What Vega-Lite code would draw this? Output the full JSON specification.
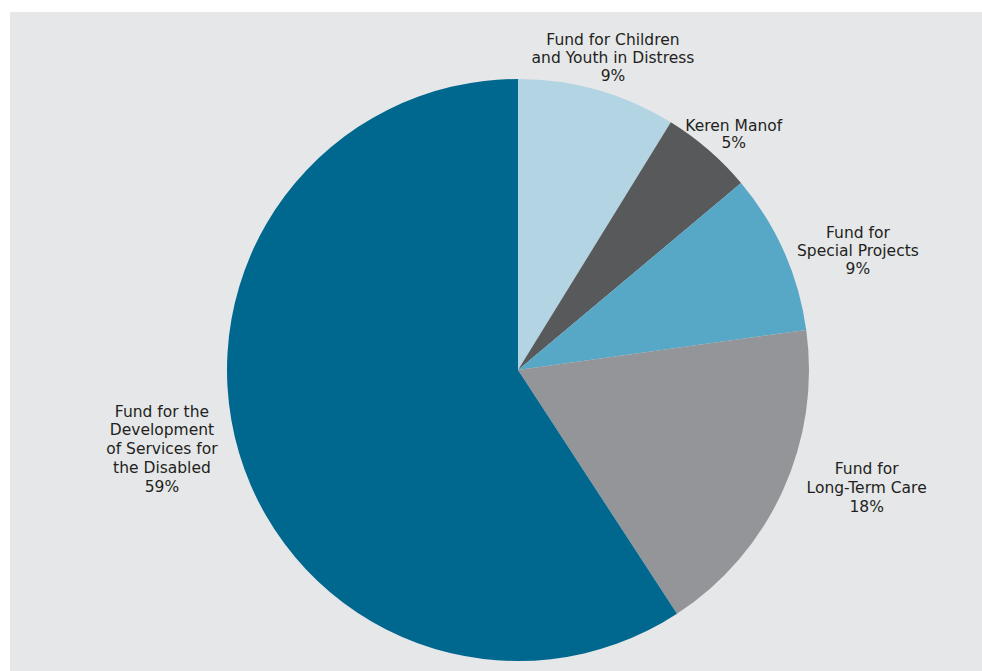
{
  "$schema": "https://vega.github.io/schema/vega-lite/v6.json",
  "width": 1016,
  "height": 716,
  "autosize": {"type": "none"},
  "padding": {"left": 10, "top": 12, "right": 0, "bottom": 0},
  "background": "#ffffff",
  "view": {"fill": "#e6e7e9", "stroke": null},
  "config": {"text": {"font": "DejaVu Sans", "fontSize": 15.5, "lineHeight": 18, "lineBreak": "\n", "align": "center", "baseline": "middle"}},
  "data": {
    "values": [
      {"fund": "Children", "order": 1, "value": 8.8, "label": "Fund for Children\nand Youth in Distress\n9%"},
      {"fund": "Keren Manof", "order": 2, "value": 5.1, "label": "Keren Manof\n5%"},
      {"fund": "Special Projects", "order": 3, "value": 8.9, "label": "Fund for\nSpecial Projects\n9%"},
      {"fund": "Long-Term Care", "order": 4, "value": 18.0, "label": "Fund for\nLong-Term Care\n18%"},
      {"fund": "Disabled", "order": 5, "value": 59.2, "label": "Fund for the\nDevelopment\nof Services for\nthe Disabled\n59%"}
    ]
  },
  "encoding": {
    "theta": {"field": "value", "type": "quantitative", "stack": true},
    "order": {"field": "order", "type": "quantitative"}
  },
  "layer": [
    {
      "mark": {"type": "arc", "radius": 291},
      "encoding": {
        "color": {
          "field": "fund",
          "type": "nominal",
          "scale": {
            "domain": ["Children", "Keren Manof", "Special Projects", "Long-Term Care", "Disabled"],
            "range": ["#b3d4e3", "#58595b", "#57a7c7", "#939598", "#00678f"]
          },
          "legend": null
        }
      }
    },
    {
      "mark": {"type": "text", "radius": 326, "dx": 6, "dy": -16, "color": "#231f20"},
      "encoding": {
        "detail": {"field": "fund"},
        "text": {"condition": {"test": "datum.fund === 'Children'", "field": "label"}, "value": ""}
      }
    },
    {
      "mark": {"type": "text", "radius": 319, "dx": 7, "dy": -3, "lineHeight": 17, "color": "#231f20"},
      "encoding": {
        "detail": {"field": "fund"},
        "text": {"condition": {"test": "datum.fund === 'Keren Manof'", "field": "label"}, "value": ""}
      }
    },
    {
      "mark": {"type": "text", "radius": 350, "dx": 20, "dy": 5, "color": "#231f20"},
      "encoding": {
        "detail": {"field": "fund"},
        "text": {"condition": {"test": "datum.fund === 'Special Projects'", "field": "label"}, "value": ""}
      }
    },
    {
      "mark": {"type": "text", "radius": 360, "dx": 21, "dy": -50, "lineHeight": 19, "color": "#231f20"},
      "encoding": {
        "detail": {"field": "fund"},
        "text": {"condition": {"test": "datum.fund === 'Long-Term Care'", "field": "label"}, "value": ""}
      }
    },
    {
      "mark": {"type": "text", "radius": 360, "dx": -11, "dy": -61, "lineHeight": 18.8, "color": "#231f20"},
      "encoding": {
        "detail": {"field": "fund"},
        "text": {"condition": {"test": "datum.fund === 'Disabled'", "field": "label"}, "value": ""}
      }
    }
  ]
}
